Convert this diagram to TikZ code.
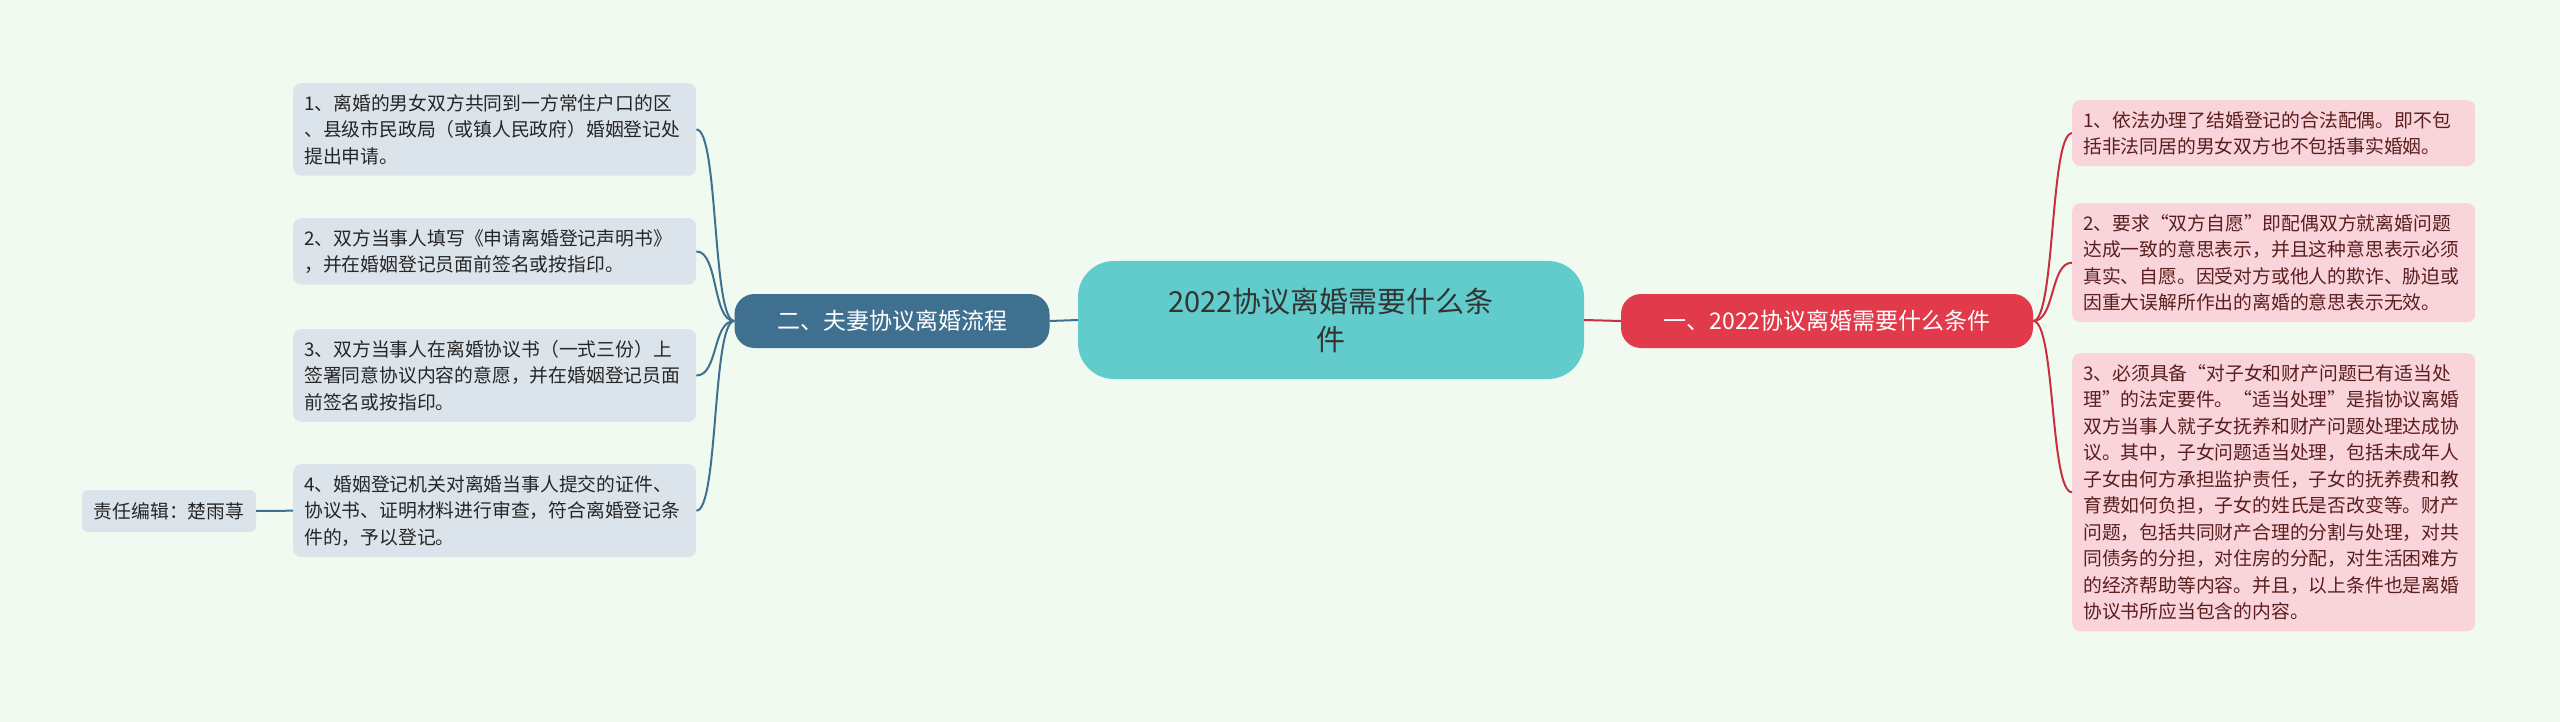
\documentclass[tikz,border=0pt]{standalone}
\usepackage{fontspec}
\setmainfont{Noto Sans CJK SC}
\definecolor{bgc}{HTML}{F0FAF0}
\definecolor{leftc}{HTML}{40708F}
\definecolor{leftbox}{HTML}{DCE4EB}
\definecolor{centerc}{HTML}{62CCCC}
\definecolor{rightc}{HTML}{E13A4A}
\definecolor{rightbox}{HTML}{F9D5DB}
\definecolor{redline}{HTML}{C8303F}
\definecolor{redtext}{HTML}{5A1E1E}
\tikzset{
  lbox/.style={fill=leftbox,rounded corners=8pt,align=left,anchor=north west,text width=381pt,inner sep=11pt,font=\fontsize{18.8}{26.5}\selectfont,text=black!85},
  rbox/.style={lbox,fill=rightbox,text=redtext},
  lline/.style={draw=leftc,line width=2pt},
  rline/.style={draw=redline,line width=2pt}
}
\begin{document}
\begin{tikzpicture}[x=1pt,y=-1pt]
	\fill[bgc] (0,0) rectangle (2560,722);
	\useasboundingbox (0,0) rectangle (2560,722);

	\node[fill=centerc,rounded corners=36pt,minimum width=506pt,minimum height=118pt,align=center,font=\fontsize{29}{38}\selectfont,text=black!80] (C) at(1331,320) {2022协议离婚需要什么条\\件};
	\node[fill=leftc,rounded corners=20pt,minimum width=315pt,minimum height=54pt,font=\fontsize{23}{28}\selectfont,text=white] (L) at(892,321) {二、夫妻协议离婚流程};
	\node[fill=rightc,rounded corners=20pt,minimum width=412pt,minimum height=54pt,font=\fontsize{23}{28}\selectfont,text=white] (R) at(1827,321) {一、2022协议离婚需要什么条件};

	\node[lbox] (L1) at(293,83) {1、离婚的男女双方共同到一方常住户口的区\\、县级市民政局（或镇人民政府）婚姻登记处\\提出申请。};
	\node[lbox] (L2) at(293,218) {2、双方当事人填写《申请离婚登记声明书》\\，并在婚姻登记员面前签名或按指印。};
	\node[lbox] (L3) at(293,329) {3、双方当事人在离婚协议书（一式三份）上\\签署同意协议内容的意愿，并在婚姻登记员面\\前签名或按指印。};
	\node[lbox] (L4) at(293,464) {4、婚姻登记机关对离婚当事人提交的证件、\\协议书、证明材料进行审查，符合离婚登记条\\件的，予以登记。};
	\node[fill=leftbox,rounded corners=6pt,minimum width=174pt,minimum height=42pt,font=\fontsize{18.8}{24}\selectfont,text=black!85] (E) at(169,511) {责任编辑：楚雨荨};

	\node[rbox] (R1) at(2072,100) {1、依法办理了结婚登记的合法配偶。即不包\\括非法同居的男女双方也不包括事实婚姻。};
	\node[rbox] (R2) at(2072,203) {2、要求“双方自愿”即配偶双方就离婚问题\\达成一致的意思表示，并且这种意思表示必须\\真实、自愿。因受对方或他人的欺诈、胁迫或\\因重大误解所作出的离婚的意思表示无效。};
	\node[rbox] (R3) at(2072,353) {3、必须具备“对子女和财产问题已有适当处\\理”的法定要件。“适当处理”是指协议离婚\\双方当事人就子女抚养和财产问题处理达成协\\议。其中，子女问题适当处理，包括未成年人\\子女由何方承担监护责任，子女的抚养费和教\\育费如何负担，子女的姓氏是否改变等。财产\\问题，包括共同财产合理的分割与处理，对共\\同债务的分担，对住房的分配，对生活困难方\\的经济帮助等内容。并且，以上条件也是离婚\\协议书所应当包含的内容。};

	\draw[lline] (C.west) -- (L.east);
	\draw[rline] (C.east) -- (R.west);

	\foreach \b in {L1,L2,L3,L4}
		\draw[lline] (L.west) .. controls ([xshift=-22pt]L.west) and ([xshift=22pt]\b.east) .. (\b.east);
	\draw[lline] (L4.west) -- (E.east);
	\foreach \b in {R1,R2,R3}
		\draw[rline] (R.east) .. controls ([xshift=22pt]R.east) and ([xshift=-22pt]\b.west) .. (\b.west);
\end{tikzpicture}
\end{document}
